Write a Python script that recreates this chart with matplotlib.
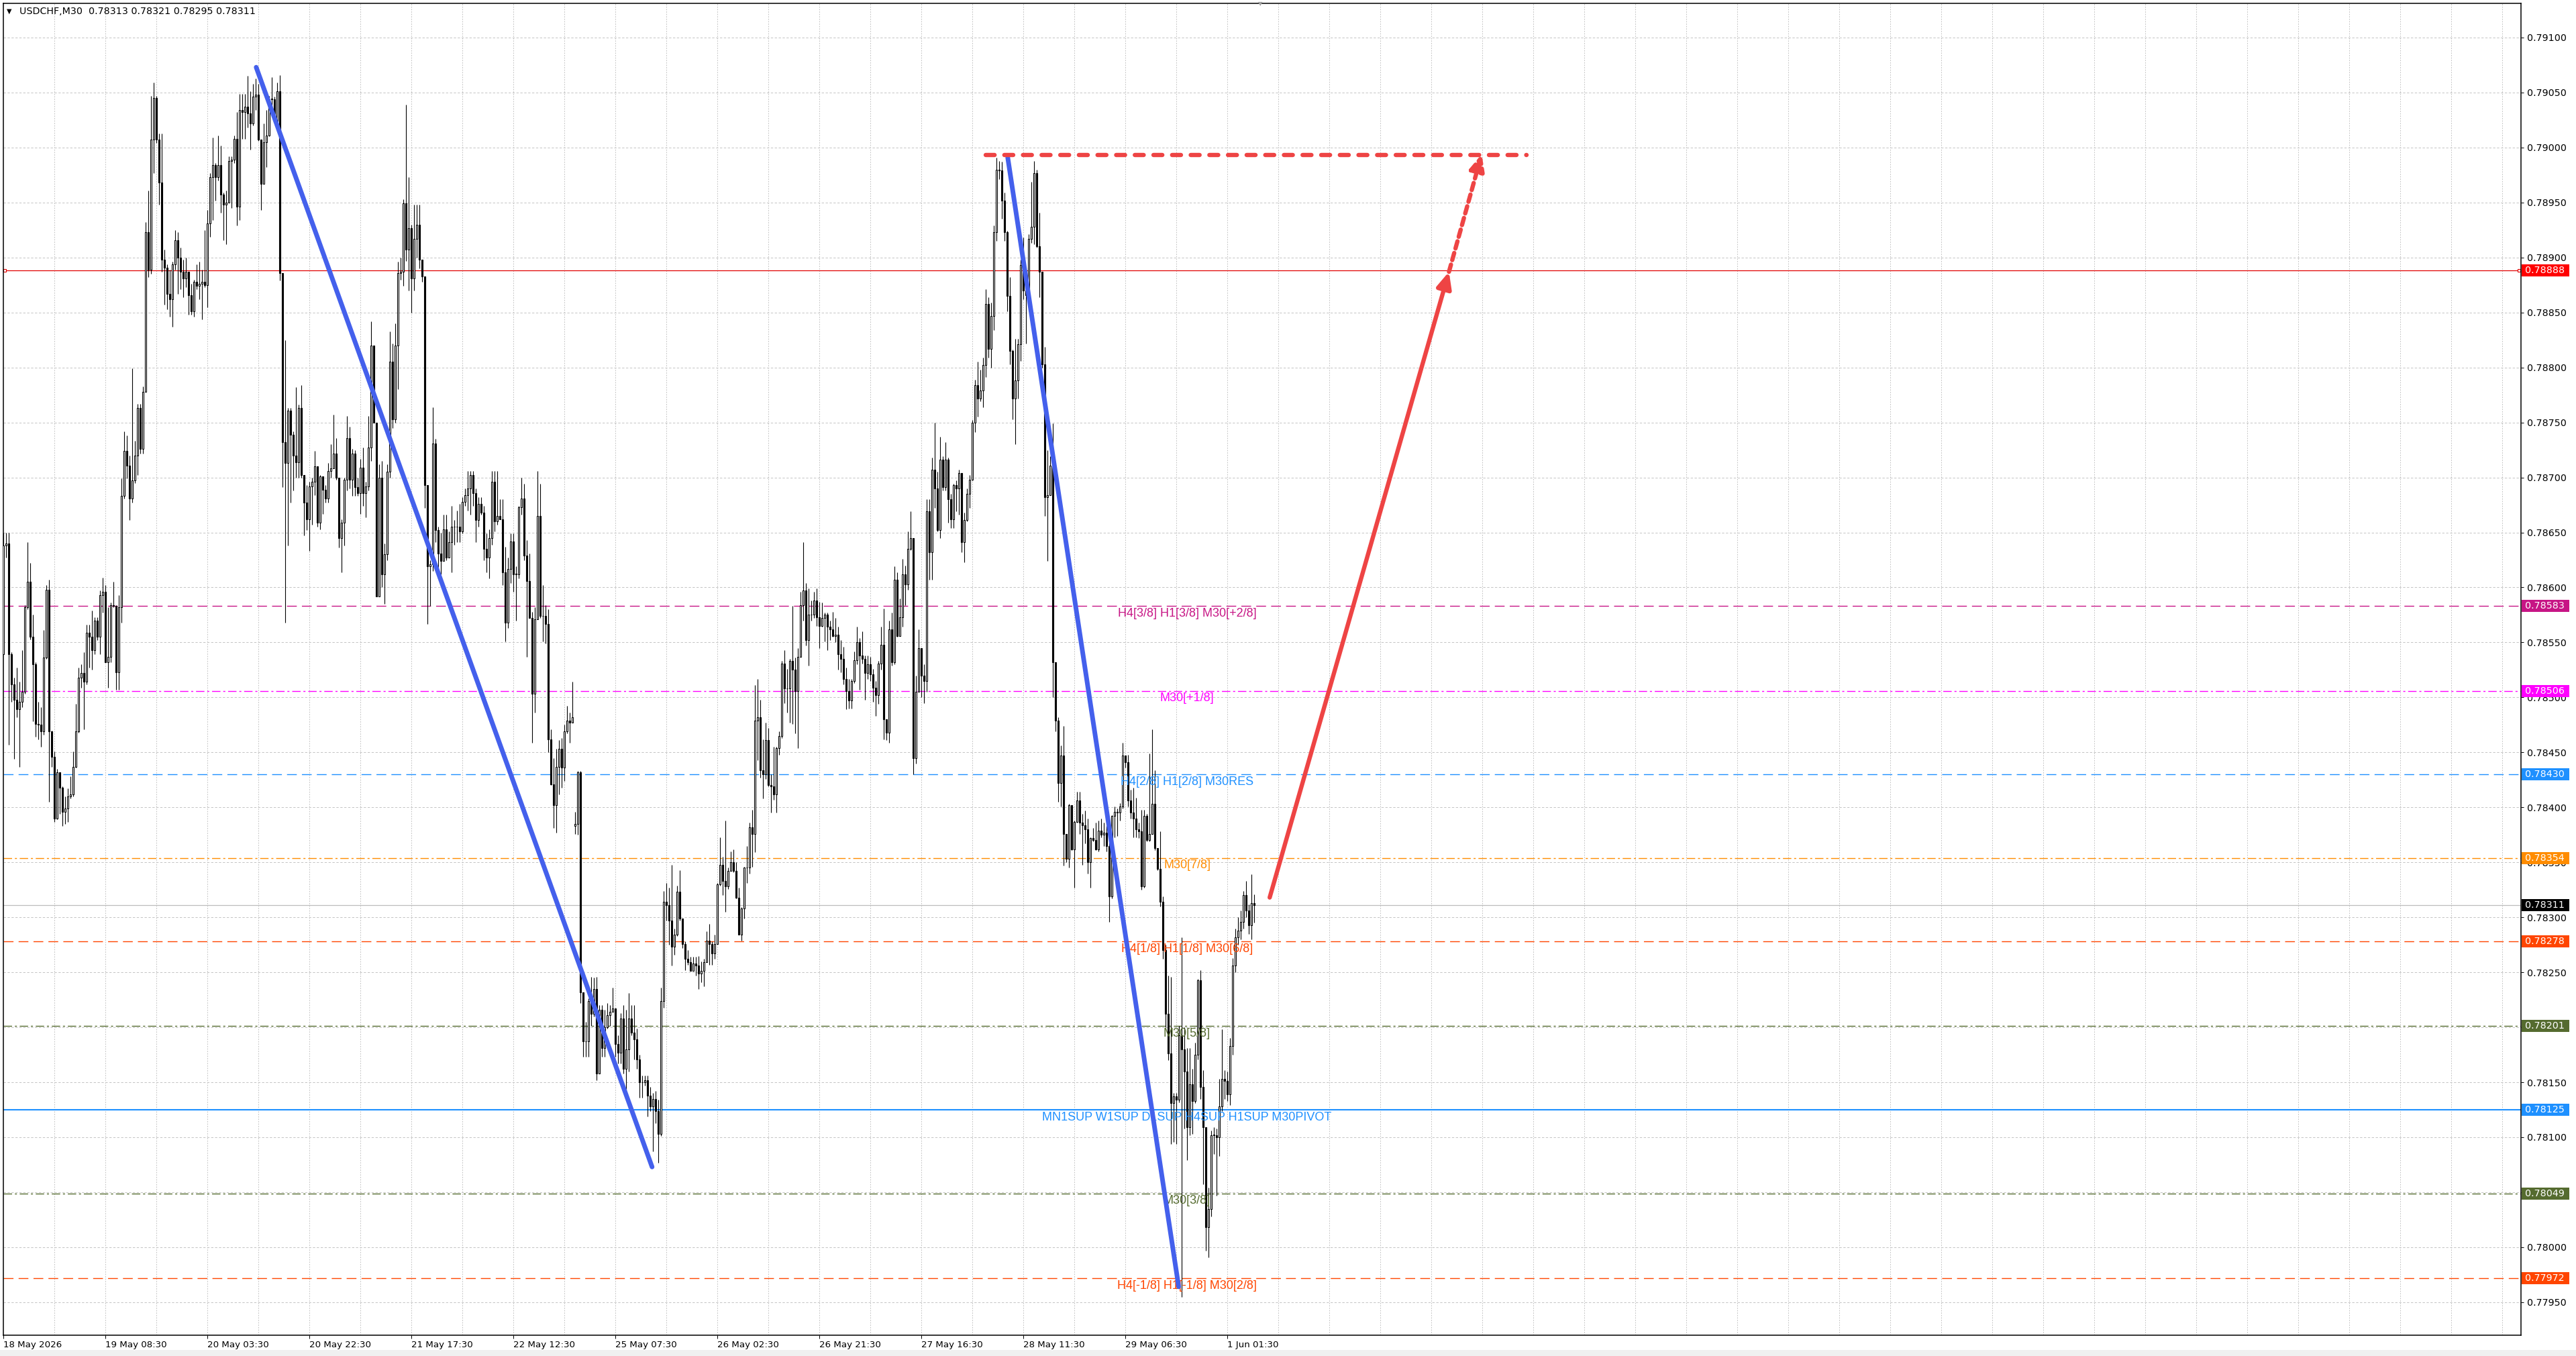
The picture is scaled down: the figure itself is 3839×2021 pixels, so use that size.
import numpy as np
import matplotlib.pyplot as plt
import matplotlib.transforms as mtransforms
from matplotlib.patches import Rectangle

plt.rcParams['lines.scale_dashes'] = False

W, H = 3839, 2021
PX = 0.72  # points per pixel at dpi 100

# USDCHF M30, prices in points above 0.78000
first_open = 539
gap_opens = {213: 383}  # monday open after the weekend

close_pts = [
    638, 640, 539, 512, 498, 489, 496, 505, 582, 605,
    555, 530, 476, 475, 469, 536, 598, 469, 446, 390,
    432, 418, 396, 399, 410, 412, 437, 469, 518, 522,
    514, 559, 555, 543, 570, 555, 593, 596, 532, 537,
    584, 583, 523, 582, 683, 724, 711, 681, 697, 720,
    763, 726, 778, 923, 889, 1007, 1045, 1007, 968, 898,
    891, 867, 862, 894, 916, 900, 887, 881, 887, 866,
    851, 878, 874, 876, 878, 875, 931, 973, 984, 973,
    984, 957, 948, 950,
    988, 989, 1008, 946, 1034, 1032, 1037, 1031, 1022, 1046,
    1048, 1007, 967, 1005, 1011, 1044, 1044, 1024, 1051, 886,
    732, 713, 761, 739, 720, 714, 763, 702, 677, 662,
    692, 696, 710, 659, 701, 689, 681, 706, 708, 722,
    700, 645, 659, 698, 736, 698, 722, 691, 686, 709,
    686, 692, 727, 820, 750, 592, 700, 612, 630, 705,
    805, 753, 820, 886, 887, 949, 907, 927, 881, 917,
    930, 898, 883, 693, 619, 621, 731, 652, 631, 624,
    653, 627, 641,
    655, 655, 655, 651, 678, 684, 690, 702, 686, 661,
    676, 668, 635, 627, 645, 696, 660, 665, 662, 614,
    568, 617, 642, 612, 612, 673, 681, 629, 606, 572,
    503, 571, 665, 574, 574, 567, 462, 421, 402, 437,
    453, 436, 469, 479, 477, 482, 385, 432, 232, 187,
    187, 224, 212, 235, 158, 216, 181, 200, 211, 214,
    217, 185, 177, 208, 162, 180, 208, 195, 189, 171,
    150, 150, 152, 138, 128, 135, 124, 103, 224, 314,
    311, 297,
    273, 284, 323, 299, 276, 262, 259, 251, 258, 256,
    249, 251, 259, 279, 276, 267, 276, 330, 348, 333,
    328, 342, 350, 342, 318, 284, 308, 345, 345, 382,
    376, 479, 482, 434, 430, 461, 420, 419, 412, 454,
    465, 531, 508, 508, 533, 525, 506, 537, 584, 597,
    552, 575, 575, 588, 573, 565, 572, 575, 564, 562,
    556, 557, 539, 535, 517, 506, 497, 515, 534, 550,
    538, 535, 522, 530, 521, 509, 502, 531, 548, 480,
    468, 562, 532, 607, 556,
    573, 612, 603, 635, 645, 445, 505, 545, 520, 515,
    669, 632, 707, 690, 652, 716, 691, 716, 680, 662,
    693, 690, 704, 641, 661, 685, 698, 750, 784, 772,
    779, 802, 858, 817, 847, 923, 980, 979, 952, 923,
    865, 815, 772, 788, 821, 893, 870, 866, 917, 928,
    977, 910, 887, 803, 682, 684, 711, 532,
    479, 422, 447, 376, 353, 402, 362, 387, 406, 386,
    384, 380, 350, 372, 370, 362, 379, 375, 377, 365,
    319, 392, 396, 395, 401, 447, 441, 406, 395, 390,
    380, 378, 328, 392, 370, 376, 403, 363, 344, 314,
    270, 212, 176, 131, 137, 134, 193, 180, 160, 109,
    148, 133, 175, 243, 146, 109, 18, 35, 102, 102,
    100, 128, 153, 151, 139, 183, 256, 282, 288, 296,
    320, 306, 293, 313, 311,
]

high_pts = [
    650, 650, 650, 541, 518, 527, 514, 543, 584, 641,
    622, 575, 532, 496, 491, 561, 602, 607, 470, 451,
    435, 432, 419, 410, 417, 428, 451, 494, 527, 530,
    541, 566, 566, 579, 573, 573, 597, 609, 602, 582,
    586, 605, 584, 593, 699, 742, 738, 720, 799, 733,
    767, 767, 783, 932, 961, 1047, 1059, 1047, 1013, 1013,
    907, 894, 889, 896, 925, 923, 909, 898, 900, 882,
    876, 880, 894, 896, 889, 925, 943, 977, 1009, 986,
    1011, 1002, 959, 961,
    992, 992, 1011, 1032, 1049, 1049, 1049, 1065, 1051, 1058,
    1063, 1058, 1007, 1022, 1034, 1047, 1064, 1046, 1059, 1066,
    881, 825, 763, 763, 742, 782, 766, 784, 701, 693,
    696, 700, 724, 710, 702, 701, 693, 713, 730, 757,
    736, 700, 662, 700, 756, 746, 726, 725, 700, 717,
    727, 696, 756, 842, 814, 750, 712, 715, 640, 712,
    833, 822, 840, 896, 900, 953, 1039, 973, 930, 948,
    948, 948, 895, 883, 693, 625, 764, 735, 655, 650,
    666, 666, 651,
    674, 661, 670, 676, 682, 690, 706, 706, 706, 690,
    682, 682, 674, 649, 653, 706, 706, 706, 680, 680,
    637, 627, 649, 649, 619, 674, 700, 694, 643, 631,
    578, 582, 706, 694, 602, 584, 580, 471, 445, 453,
    461, 463, 475, 492, 486, 514, 396, 433, 433, 232,
    205, 226, 246, 245, 246, 220, 220, 216, 222, 220,
    236, 217, 193, 213, 220, 216, 231, 220, 220, 199,
    175, 156, 156, 156, 146, 140, 142, 134, 236, 324,
    331, 327,
    348, 290, 329, 343, 299, 278, 270, 264, 264, 264,
    265, 260, 262, 287, 294, 278, 284, 331, 373, 355,
    388, 345, 360, 362, 350, 327, 309, 346, 365, 386,
    398, 511, 517, 498, 462, 477, 472, 430, 455, 455,
    469, 533, 543, 526, 535, 583, 536, 545, 596, 641,
    604, 599, 588, 596, 599, 587, 586, 577, 577, 570,
    578, 572, 564, 552, 546, 527, 517, 517, 542, 564,
    554, 560, 538, 538, 537, 526, 515, 533, 564, 581,
    480, 570, 577, 619, 614,
    590, 626, 620, 651, 669, 645, 520, 562, 545, 530,
    680, 680, 718, 750, 705, 737, 719, 732, 718, 685,
    694, 697, 707, 666, 668, 690, 702, 752, 789, 805,
    798, 809, 871, 864, 859, 929, 991, 988, 987, 959,
    924, 882, 816, 826, 826, 898, 918, 880, 921, 969,
    988, 980, 941, 887, 819, 725, 719, 749,
    532, 482, 456, 474, 376, 403, 402, 388, 414, 414,
    394, 397, 390, 373, 381, 386, 388, 390, 386, 383,
    368, 393, 401, 399, 404, 459, 447, 448, 416, 418,
    409, 386, 398, 398, 394, 449, 471, 434, 363, 378,
    319, 275, 247, 246, 140, 140, 201, 282, 200, 181,
    181, 162, 186, 244, 252, 161, 109, 54, 106, 109,
    108, 153, 198, 161, 160, 190, 263, 290, 300, 306,
    324, 333, 312, 339, 321,
]

low_pts = [
    539, 627, 457, 496, 444, 482, 437, 491, 503, 580,
    553, 478, 464, 462, 455, 466, 535, 405, 437, 387,
    389, 394, 383, 385, 387, 408, 410, 436, 468, 509,
    471, 512, 527, 525, 539, 552, 539, 577, 532, 509,
    532, 582, 507, 507, 568, 681, 699, 661, 677, 695,
    702, 722, 722, 778, 882, 885, 977, 1004, 948, 887,
    857, 853, 846, 837, 889, 867, 871, 864, 873, 848,
    848, 846, 871, 862, 844, 873, 855, 919, 934, 952,
    970, 941, 916, 912,
    950, 945, 986, 929, 934, 1008, 1008, 1018, 998, 1020,
    1034, 1006, 943, 967, 982, 1010, 1034, 1023, 1022, 879,
    691, 568, 638, 677, 688, 700, 700, 700, 647, 652,
    633, 657, 684, 655, 653, 667, 677, 677, 700, 708,
    698, 636, 614, 638, 688, 690, 683, 683, 683, 667,
    674, 664, 688, 715, 750, 592, 592, 600, 585, 625,
    700, 745, 750, 780, 880, 874, 897, 870, 850, 870,
    900, 890, 878, 672, 567, 583, 615, 641, 608, 612,
    625, 625, 629,
    614, 639, 641, 641, 649, 674, 670, 666, 674, 641,
    655, 666, 625, 614, 608, 639, 651, 657, 662, 602,
    551, 563, 604, 596, 570, 608, 666, 625, 537, 572,
    459, 486, 572, 572, 551, 549, 450, 420, 381, 377,
    412, 418, 424, 467, 459, 477, 376, 375, 222, 173,
    173, 173, 201, 210, 152, 160, 173, 173, 199, 201,
    216, 173, 167, 167, 158, 142, 160, 193, 171, 162,
    136, 136, 147, 119, 124, 87, 113, 77, 101, 218,
    297, 275,
    256, 266, 283, 297, 272, 252, 257, 251, 251, 247,
    235, 241, 237, 260, 257, 257, 262, 283, 329, 320,
    305, 326, 343, 341, 317, 284, 279, 299, 331, 340,
    346, 359, 443, 427, 408, 426, 419, 395, 407, 395,
    448, 463, 495, 486, 477, 476, 467, 454, 538, 570,
    547, 529, 570, 572, 565, 545, 564, 551, 543, 552,
    555, 550, 525, 523, 512, 489, 490, 490, 513, 530,
    507, 531, 498, 517, 515, 496, 483, 494, 525, 462,
    461, 459, 529, 530, 555,
    556, 564, 584, 598, 634, 430, 440, 523, 500, 495,
    505, 607, 607, 672, 651, 645, 688, 688, 659, 654,
    654, 669, 666, 632, 623, 660, 672, 697, 741, 755,
    769, 764, 791, 809, 800, 834, 915, 971, 935, 915,
    851, 803, 753, 730, 772, 806, 862, 822, 868, 913,
    912, 909, 864, 800, 665, 624, 685, 500,
    469, 405, 401, 347, 350, 345, 361, 327, 386, 376,
    348, 367, 340, 327, 369, 361, 360, 373, 365, 360,
    296, 317, 373, 374, 388, 399, 436, 401, 390, 373,
    373, 372, 325, 327, 369, 369, 376, 361, 343, 310,
    262, 200, 170, 94, 96, 94, 132, -45, 108, 79,
    102, 103, 131, 171, 135, 57, -3, -9, 28, 85,
    47, 83, 124, 135, 133, 129, 175, 250, 275, 280,
    290, 300, 285, 280, 295,
]

x_tick_bars = [0, 38, 76, 114, 152, 190, 228, 266, 304, 342, 380, 418, 456]
x_tick_labels = ['18 May 2026', '19 May 08:30', '20 May 03:30', '20 May 22:30',
                 '21 May 17:30', '22 May 12:30', '25 May 07:30', '26 May 02:30',
                 '26 May 21:30', '27 May 16:30', '28 May 11:30', '29 May 06:30',
                 '1 Jun 01:30']

# murrey / pivot levels
level_prices = [0.78583, 0.78506, 0.78430, 0.78354, 0.78278, 0.78201, 0.78125, 0.78049, 0.77972]
level_texts = ['H4[3/8] H1[3/8] M30[+2/8]', 'M30[+1/8]', 'H4[2/8] H1[2/8] M30RES',
               'M30[7/8]', 'H4[1/8] H1[1/8] M30[6/8]', 'M30[5/8]',
               'MN1SUP W1SUP D1SUP H4SUP H1SUP M30PIVOT', 'M30[3/8]',
               'H4[-1/8] H1[-1/8] M30[2/8]']
level_colors = ['#C71585', '#FF00FF', '#1E90FF', '#FF8C00', '#FF4500',
                '#556B2F', '#1E90FF', '#556B2F', '#FF4500']
level_styles = ['dash', 'dashdot', 'dash', 'dashdot', 'dash', 'dashdot', 'solid', 'dashdot', 'dash']
red_level = 0.78888

# hand drawn objects (bar index, price)
blue_lines = [((94.2, 0.79073), (241.7, 0.78073)),
              ((374.2, 0.78991), (437.9, 0.77964))]
red_dash_level = ((366, 567.5), 0.78993)
red_arrow = ((471.8, 0.78318), (538.6, 0.78887))
red_arrow_dash = ((538.6, 0.78887), (550.8, 0.78994))

# ---------------------------------------------------------------
c = 0.78 + np.array(close_pts) * 1e-5
hi = 0.78 + np.array(high_pts) * 1e-5
lo = 0.78 + np.array(low_pts) * 1e-5
assert len(c) == len(hi) == len(lo)
n = len(c)
o = np.r_[0.78 + first_open * 1e-5, c[:-1]]
for i, v in gap_opens.items():
    o[i] = 0.78 + v * 1e-5
hi = np.maximum(hi, np.maximum(o, c))
lo = np.minimum(lo, np.minimum(o, c))
x = np.arange(n)

fig = plt.figure(figsize=(W / 100, H / 100), dpi=100)
ax = fig.add_axes([5 / W, 1 - 1990 / H, 3752 / W, 1985 / H])
ax.set_facecolor('white')

y_lo, y_hi = 0.779200, 0.791311
ax.set_xlim(0, 938)
ax.set_ylim(y_lo, y_hi)

# grid
yt = np.round(np.arange(0.77950, 0.79101, 0.0005), 5)
for v in yt:
    ax.axhline(v, color='#C4C4C4', lw=PX, linestyle=(0, (2.4, 1.8)), zorder=0)
for b in range(19, 938, 19):
    ax.axvline(b, color='#C4C4C4', lw=PX, linestyle=(0, (1.3, 1.3)), zorder=0)

# levels
dash_map = {'dash': (0, (10.5, 5.5)), 'dashdot': (0, (9, 3, 2.2, 3)), 'solid': '-'}
for p, t, col, st in zip(level_prices, level_texts, level_colors, level_styles):
    ax.axhline(p, color=col, lw=1.5 if st == 'solid' else 1.0, linestyle=dash_map[st], zorder=1)
    ax.annotate(t, xy=(441, p), xytext=(0, -2), textcoords='offset points',
                ha='center', va='top', fontsize=13, color=col,
                family='Liberation Sans', zorder=6)
ax.axhline(red_level, color='#E00000', lw=0.9, zorder=1)
ax.plot([0.6, 937.2], [red_level, red_level], 's', ms=3.2, mfc='white', mec='#E00000',
        mew=0.8, zorder=2, clip_on=False)
ax.axhline(c[-1], color='#BDBDBD', lw=0.9, zorder=1)

# candles
up = c >= o
ax.vlines(x, lo, hi, color='black', lw=0.8, zorder=3)
body = np.maximum(np.abs(c - o), 3e-6)
ax.bar(x, body, bottom=np.minimum(o, c), width=0.58,
       color=np.where(up, 'white', 'black'), edgecolor='black', linewidth=0.8, zorder=4)

# drawings
blue = '#4460EC'
red = '#EE4444'
for (x0, y0), (x1, y1) in blue_lines:
    ax.plot([x0, x1], [y0, y1], color=blue, lw=5, solid_capstyle='round', zorder=7)
(rx0, rx1), ry = red_dash_level
ax.plot([rx0, rx1], [ry, ry], color=red, lw=4.6, linestyle=(0, (9.5, 10.5)),
        dash_capstyle='round', zorder=7)
ax.annotate('', xy=red_arrow[1], xytext=red_arrow[0],
            arrowprops=dict(arrowstyle='-|>,head_length=0.55,head_width=0.25', color=red,
                            lw=4.6, shrinkA=0, shrinkB=0, mutation_scale=26,
                            capstyle='round'), zorder=8)
ax.annotate('', xy=red_arrow_dash[1], xytext=red_arrow_dash[0],
            arrowprops=dict(arrowstyle='-|>,head_length=0.55,head_width=0.25', color=red,
                            lw=4.6, shrinkA=0, shrinkB=0, mutation_scale=26,
                            linestyle=(0, (8, 5))), zorder=8)

# axes look
for s in ax.spines.values():
    s.set_linewidth(1.1)
    s.set_color('black')
ax.yaxis.tick_right()
ax.set_yticks(yt)
ax.set_yticklabels([f'{v:.5f}' for v in yt])
ax.tick_params(axis='y', direction='out', length=3.2, width=PX, pad=3, labelsize=10.3)
ax.set_xticks(x_tick_bars)
ax.set_xticklabels(x_tick_labels, ha='left')
ax.tick_params(axis='x', direction='out', length=3.6, width=PX, pad=2, labelsize=9.6)

# price boxes on the right scale
trans = mtransforms.blended_transform_factory(fig.transFigure, ax.transData)
box_h = 18 / 163900
boxes = [(red_level, '#FF0000')] + list(zip(level_prices, level_colors)) + [(c[-1], 'black')]
for p, col in boxes:
    ax.add_patch(Rectangle((3758 / W, p - box_h / 2), 71 / W, box_h, transform=trans,
                           fc=col, ec='none', clip_on=False, zorder=10))
    ax.text(3763 / W, p, f'{p:.5f}', transform=trans, color='white', va='center',
            ha='left', fontsize=10.3, clip_on=False, zorder=11)
ax.set_xlim(0, 938)
ax.set_ylim(y_lo, y_hi)

# header
fig.text(10 / W, 1 - 17 / H, '\u25bc', fontsize=7, va='center', ha='left')
fig.text(29 / W, 1 - 17 / H,
         f'USDCHF,M30  {o[-1]:.5f} {hi[-1]:.5f} {lo[-1]:.5f} {c[-1]:.5f}',
         fontsize=10.3, va='center', ha='left')
fig.text(1878 / W, 1 - 6 / H, '\u25bc', fontsize=6, va='center', ha='center', color='#A0A0A0')
fig.patches.append(Rectangle((0, 0), 1, 9 / H, transform=fig.transFigure,
                             fc='#F0F0F0', ec='none'))

fig.savefig('out.png', dpi=100, facecolor='white')
